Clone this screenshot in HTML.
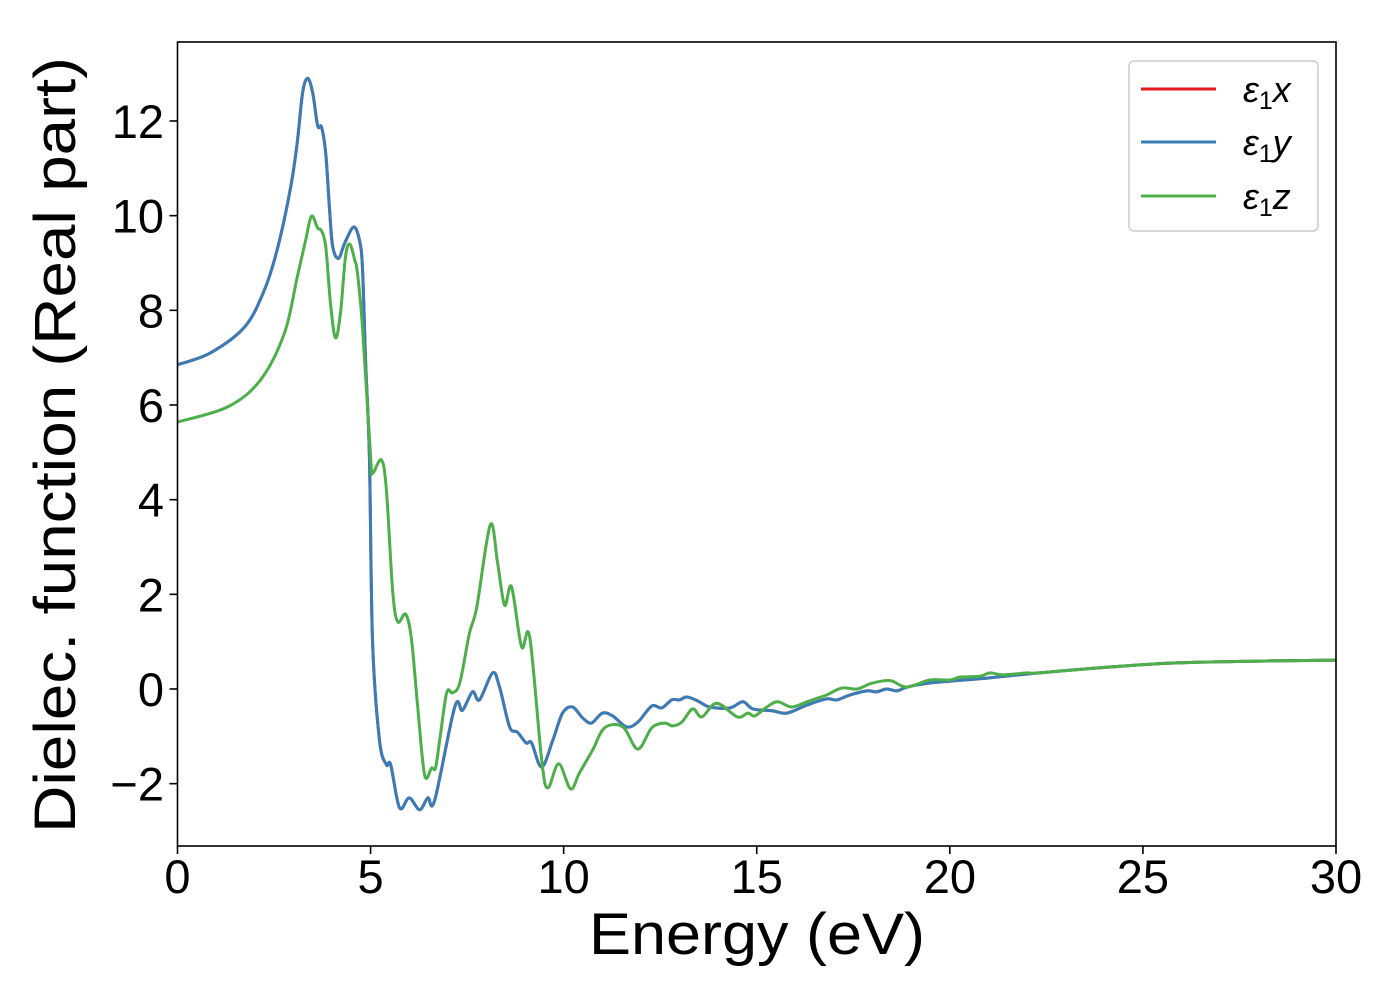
<!DOCTYPE html>
<html><head><meta charset="utf-8"><style>
html,body{margin:0;padding:0;background:#fff;}
svg{display:block;font-family:"Liberation Sans","DejaVu Sans",sans-serif;}
</style></head><body>
<svg id="chart" width="1400" height="1000" viewBox="0 0 1400 1000">
  <rect x="0" y="0" width="1400" height="1000" fill="#fff"/>
  <g id="series"></g>
  <g id="axes"></g>
  <text x="757" y="954" font-size="58" textLength="336" lengthAdjust="spacingAndGlyphs" text-anchor="middle">Energy (eV)</text>
  <text transform="translate(75,445) rotate(-90)" font-size="58" textLength="776" lengthAdjust="spacingAndGlyphs" text-anchor="middle">Dielec. function (Real part)</text>
  <g>
    <rect x="1129" y="61" width="189" height="170" rx="5" fill="#fff" fill-opacity="0.8" stroke="#ccc" stroke-width="1.5"/>
    <g>
      <line x1="1141" y1="89" x2="1216" y2="89" stroke="#e41a1c" stroke-width="3"/>
      <text x="1243" y="102" font-size="36"><tspan font-style="italic">ε</tspan><tspan font-size="25" dy="7">1</tspan><tspan font-style="italic" dy="-7">x</tspan></text>
    </g>
    <g>
      <line x1="1141" y1="142" x2="1216" y2="142" stroke="#377eb8" stroke-width="3"/>
      <text x="1243" y="155" font-size="36"><tspan font-style="italic">ε</tspan><tspan font-size="25" dy="7">1</tspan><tspan font-style="italic" dy="-7">y</tspan></text>
    </g>
    <g>
      <line x1="1141" y1="196" x2="1216" y2="196" stroke="#4daf4a" stroke-width="3"/>
      <text x="1243" y="209" font-size="36"><tspan font-style="italic">ε</tspan><tspan font-size="25" dy="7">1</tspan><tspan font-style="italic" dy="-7">z</tspan></text>
    </g>
  </g>
</svg>
<script>
const xTicks = [0,5,10,15,20,25,30];
const yTicks = [-2,0,2,4,6,8,10,12];
const yTickLabels = ["\u22122","0","2","4","6","8","10","12"];
const energyXY = [0,0.85,1.74,2.25,2.6,2.93,3.1,3.24,3.37,3.5,3.63,3.73,3.84,3.94,4.02,4.17,4.33,4.56,4.71,4.79,4.87,4.97,5.05,5.23,5.41,5.52,5.75,6.0,6.27,6.48,6.66,7.18,7.38,7.64,7.82,8.16,8.34,8.6,8.8,9.03,9.17,9.43,9.72,9.97,10.23,10.49,10.72,11.0,11.27,11.63,11.92,12.28,12.54,12.8,13.0,13.19,13.47,13.78,14.3,14.64,14.9,15.4,15.78,16.3,16.8,17.07,17.4,17.85,18.1,18.37,18.63,18.89,19.5,20.96,22.3,24.07,25.8,28,30];
const epsY = [6.85,7.1,7.65,8.43,9.34,10.6,11.54,12.6,12.9,12.6,11.9,11.87,11.3,10.1,9.34,9.1,9.42,9.76,9.49,8.9,6.95,4.9,1.03,-1.08,-1.6,-1.6,-2.51,-2.3,-2.55,-2.3,-2.35,-0.38,-0.45,-0.06,-0.23,0.34,0.04,-0.8,-0.91,-1.14,-1.14,-1.65,-1.08,-0.51,-0.38,-0.61,-0.72,-0.51,-0.57,-0.8,-0.7,-0.36,-0.4,-0.23,-0.23,-0.17,-0.25,-0.38,-0.4,-0.27,-0.42,-0.46,-0.51,-0.34,-0.21,-0.23,-0.13,-0.04,-0.06,0,-0.04,0.04,0.13,0.23,0.34,0.46,0.55,0.59,0.61];
const epsX = epsY.slice();
const energyZ = [0,1.3,2.15,2.77,3.1,3.32,3.47,3.63,3.73,3.84,3.96,4.09,4.22,4.35,4.46,4.59,4.66,4.79,5.0,5.05,5.28,5.41,5.57,5.7,5.91,6.06,6.22,6.4,6.58,6.68,6.79,6.97,7.12,7.31,7.56,7.75,8.1,8.29,8.47,8.65,8.91,9.12,9.43,9.59,9.87,10.18,10.41,10.75,11.06,11.53,11.92,12.28,12.62,12.82,13.06,13.34,13.58,13.96,14.5,14.77,14.95,15.26,15.54,15.9,16.3,16.58,16.8,17.2,17.6,17.93,18.26,18.5,18.89,19.48,20.0,20.26,20.78,21.04,21.37,22.0,22.3,24.07,25.8,28,30];
const epsZ = [5.64,5.96,6.53,7.52,8.7,9.49,9.99,9.74,9.68,9.34,8.16,7.42,7.94,9.13,9.4,9.06,8.79,7.65,4.9,4.56,4.84,4.2,2.09,1.42,1.58,1.04,-0.38,-1.82,-1.67,-1.67,-1.08,-0.08,-0.08,0.13,1.18,1.73,3.47,2.66,1.77,2.16,0.89,1.1,-1.5,-2.09,-1.58,-2.11,-1.77,-1.29,-0.82,-0.8,-1.27,-0.82,-0.72,-0.78,-0.7,-0.42,-0.59,-0.3,-0.59,-0.51,-0.57,-0.38,-0.27,-0.38,-0.27,-0.19,-0.13,0.02,0,0.11,0.17,0.17,0.04,0.19,0.19,0.25,0.27,0.34,0.3,0.34,0.34,0.46,0.55,0.59,0.61];

const L=177.5, R=1336, T=42, B=846;
const xMin=0,xMax=30,yMin=-3.3,yMax=13.68;
function sx(v){return L+(v-xMin)/(xMax-xMin)*(R-L);}
function sy(v){return 689+(0-v)*(689-121)/12;}
const NS="http://www.w3.org/2000/svg";
function mk(tag,attrs,parent){const e=document.createElementNS(NS,tag);for(const k in attrs)e.setAttribute(k,attrs[k]);parent.appendChild(e);return e;}
function pathD(xs,ys){
  const p=xs.map((x,i)=>[sx(x),sy(ys[i])]);
  let d="M"+p[0][0].toFixed(2)+","+p[0][1].toFixed(2);
  for(let i=0;i<p.length-1;i++){
    const p0=p[i-1]||p[i],p1=p[i],p2=p[i+1],p3=p[i+2]||p2;
    const t=1/6;
    const c1=[p1[0]+(p2[0]-p0[0])*t,p1[1]+(p2[1]-p0[1])*t];
    const c2=[p2[0]-(p3[0]-p1[0])*t,p2[1]-(p3[1]-p1[1])*t];
    d+="C"+c1[0].toFixed(2)+","+c1[1].toFixed(2)+" "+c2[0].toFixed(2)+","+c2[1].toFixed(2)+" "+p2[0].toFixed(2)+","+p2[1].toFixed(2);
  }
  return d;
}
const sg=document.getElementById("series");
const clip=mk("clipPath",{id:"pc"},mk("defs",{},sg));
mk("rect",{x:L,y:T,width:R-L,height:B-T},clip);
const lines=[[energyXY,epsX,"#e41a1c","line-eps1-x"],[energyXY,epsY,"#377eb8","line-eps1-y"],[energyZ,epsZ,"#4daf4a","line-eps1-z"]];
lines.forEach(s=>{
  const el=mk("path",{d:pathD(s[0],s[1]),fill:"none",stroke:s[2],"stroke-width":3,"stroke-linejoin":"round","clip-path":"url(#pc)"},sg);
  
  
});
const ax=document.getElementById("axes");
const frame=mk("rect",{x:L,y:T,width:R-L,height:B-T,fill:"none",stroke:"#000","stroke-width":1.6},ax);


xTicks.forEach(v=>{
  const g=mk("g",{},ax);
  
  
  mk("line",{x1:sx(v),y1:B,x2:sx(v),y2:B+8,stroke:"#000","stroke-width":1.6},g);
  const t=mk("text",{x:sx(v),y:893,"font-size":47,"text-anchor":"middle"},g);
  t.textContent=String(v);
});
yTicks.forEach((v,i)=>{
  const g=mk("g",{},ax);
  
  
  mk("line",{x1:L-8,y1:sy(v),x2:L,y2:sy(v),stroke:"#000","stroke-width":1.6},g);
  const t=mk("text",{x:164,y:sy(v)+17,"font-size":47,"text-anchor":"end"},g);
  t.textContent=yTickLabels[i];
});
</script>
</body></html>
